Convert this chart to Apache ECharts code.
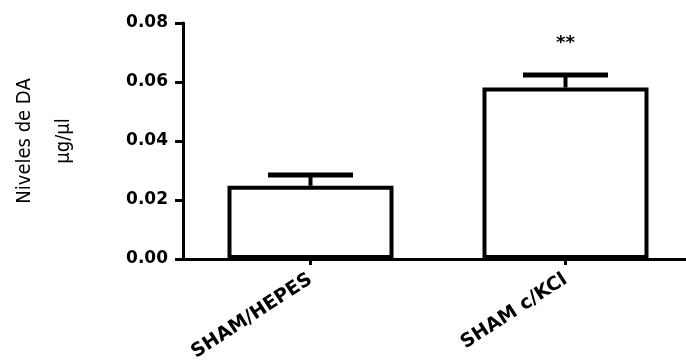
<!DOCTYPE html>
<html>
<head>
<meta charset="utf-8">
<script src="https://cdn.jsdelivr.net/npm/echarts@6/dist/echarts.min.js"></script>
<style>
html,body{margin:0;padding:0;background:#fff;}
#chart{width:686px;height:364px;}
</style>
</head>
<body>
<div id="chart"></div>
<script>
var categories = ['SHAM/HEPES', 'SHAM c/KCl'];
var means = [0.0248, 0.0581];
var errors = [0.0037, 0.0043];
var significance = ['', '**'];
var yTicks = [0, 0.02, 0.04, 0.06, 0.08];

var chart = echarts.init(document.getElementById('chart'));

var errData = categories.map(function (c, i) { return [i, means[i], errors[i]]; });

chart.setOption({
  animation: false,
  backgroundColor: '#fff',
  grid: { left: 183, right: -7, top: 23, bottom: 105, containLabel: false, outerBoundsMode: 'none' },
  xAxis: {
    type: 'category',
    data: categories,
    boundaryGap: true,
    axisLine: { lineStyle: { color: '#000', width: 3 } },
    axisTick: { show: true, alignWithLabel: true, length: 6, lineStyle: { color: '#000', width: 3 } },
    axisLabel: {
      rotate: 33, margin: 19, color: '#000',
      fontFamily: 'DejaVu Sans', fontWeight: 'bold', fontSize: 19
    }
  },
  yAxis: {
    type: 'value',
    min: yTicks[0], max: yTicks[yTicks.length - 1], interval: 0.02,
    name: 'Niveles de DA\nµg/µl',
    nameLocation: 'middle', nameRotate: 90, nameGap: 100,
    nameTextStyle: { fontFamily: '"Liberation Sans Narrow", "DejaVu Sans Condensed", "Liberation Sans", sans-serif', fontSize: 20, color: '#000', lineHeight: 39 },
    splitLine: { show: false },
    axisLine: { show: true, lineStyle: { color: '#000', width: 3 } },
    axisTick: { show: true, length: 8, lineStyle: { color: '#000', width: 3 } },
    axisLabel: {
      margin: 15, color: '#000',
      fontFamily: 'DejaVu Sans', fontWeight: 'bold', fontSize: 17,
      formatter: function (v) { return v.toFixed(2); }
    }
  },
  series: [
    {
      type: 'bar',
      data: means,
      barWidth: 166,
      itemStyle: { color: '#fff', borderColor: '#000', borderWidth: 4 },
      z: 2
    },
    {
      type: 'custom',
      data: errData,
      z: 3,
      renderItem: function (params, api) {
        var idx = api.value(0), m = api.value(1), e = api.value(2);
        var sig = significance[params.dataIndex];
        var p0 = api.coord([idx, m]);
        var p1 = api.coord([idx, m + e]);
        var band = api.size([1, 0])[0];
        var half = band / 3 / 2;
        var children = [
          { type: 'line', shape: { x1: p0[0], y1: p0[1], x2: p1[0], y2: p1[1] }, style: { stroke: '#000', lineWidth: 4 } },
          { type: 'line', shape: { x1: p1[0] - half, y1: p1[1], x2: p1[0] + half, y2: p1[1] }, style: { stroke: '#000', lineWidth: 5 } }
        ];
        if (sig) {
          children.push({
            type: 'text',
            style: {
              x: p1[0], y: p1[1] - 32, text: sig,
              fill: '#000', font: 'bold 18px "DejaVu Sans"',
              textAlign: 'center', textVerticalAlign: 'middle'
            }
          });
        }
        return { type: 'group', children: children };
      }
    }
  ]
});
</script>
</body>
</html>
